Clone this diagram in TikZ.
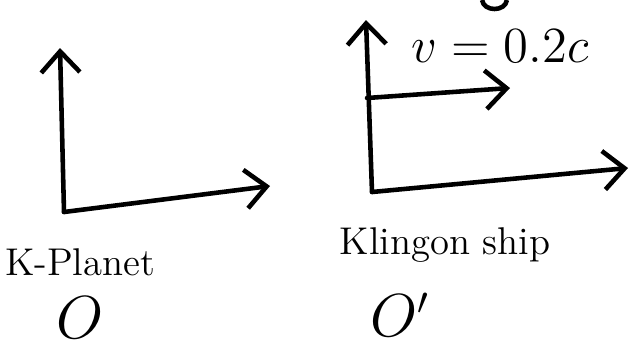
\documentclass[tikz,border=0pt]{standalone}
\usetikzlibrary{arrows.meta}
\begin{document}
\begin{tikzpicture}[x=0.01cm,y=-0.01cm,
	axis/.style={line width=1.3pt,line cap=round,line join=round,-{Straight Barb[length=6pt,width=11pt,line width=1.3pt]}},
	hand/.style={font=\fontsize{11}{13}\selectfont},
	big/.style={font=\fontsize{16}{19}\selectfont}]
	
	\useasboundingbox (0,0) rectangle (636,348);
	
	% Ejes del planeta
	\coordinate (pTop) at (60,48);
	\coordinate (pOrig) at (64,212);
	\coordinate (pRight) at (270,186);
	\draw[axis] (pOrig) -- (pTop);
	\draw[axis] (pOrig) -- (pRight);
	
	% Ejes de la nave
	\coordinate (sTop) at (366,20);
	\coordinate (sOrig) at (372,192);
	\coordinate (sRight) at (628,168);
	\draw[axis] (sOrig) -- (sTop);
	\draw[axis] (sOrig) -- (sRight);
	
	% Velocidad
	\coordinate (vStart) at (367,98);
	\coordinate (vEnd) at (510,88);
	\draw[axis] (vStart) -- (vEnd);
	\node[font=\fontsize{14}{17}\selectfont] (vel) at (500,46) {$v = 0.2c$};
	
	% Trazo cortado arriba
	\coordinate (cutA) at (482,0);
	\coordinate (cutB) at (507,0);
	\draw[line width=1.3pt] (cutA) .. controls (484,12) and (505,12) .. (cutB);
	
	% Etiquetas
	\node[hand] (planet) at (80,262) {K-Planet};
	\node[big] (planetO) at (80,318) {$O$};
	\node[hand] (ship) at (445,245) {Klingon ship};
	\node[big] (shipO) at (400,315) {$O'$};
	
\end{tikzpicture}
\end{document}
